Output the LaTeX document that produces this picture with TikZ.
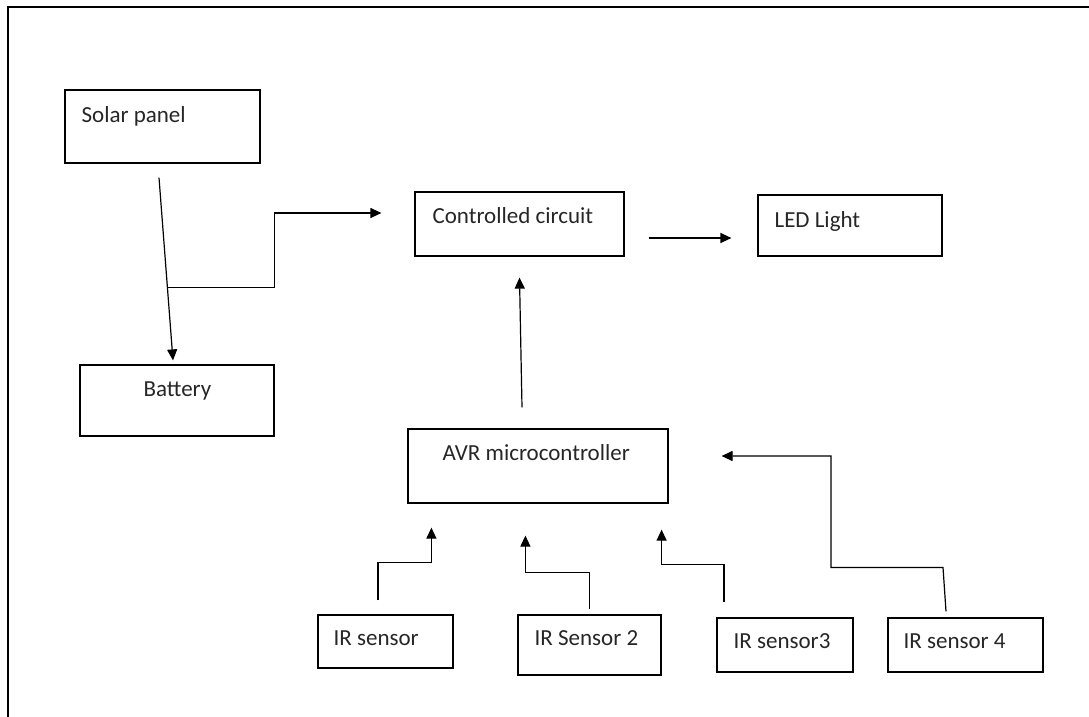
\documentclass[tikz,border=0pt]{standalone}
\usepackage{fontspec}
\setmainfont{Carlito}
\usetikzlibrary{arrows.meta}
\tikzset{
  box/.style={draw, line width=1.2pt, inner sep=0pt},
  lbl/.style={anchor=base west, inner sep=0pt, font=\fontsize{23}{27}\selectfont, text=black!85},
  arr/.style={line width=1.2pt, -{Triangle[length=11pt,width=10pt]}},
  wire/.style={line width=1.2pt}
}
\begin{document}
\begin{tikzpicture}[x=1pt,y=-1pt]
\useasboundingbox (0,0) rectangle (1089,717);
\draw[line width=1.4pt] (8,717) -- (8,7) -- (1089,7);
\node[box, minimum width=195, minimum height=73] (solar) at (162.5,126.5) {};
\node[box, minimum width=194, minimum height=71] (batt) at (177,400.5) {};
\node[box, minimum width=209, minimum height=64] (cc) at (519.5,224) {};
\node[box, minimum width=184, minimum height=61] (led) at (850,225.5) {};
\node[box, minimum width=260, minimum height=74] (avr) at (538,466) {};
\node[box, minimum width=135, minimum height=53] (ir1) at (385.5,641.5) {};
\node[box, minimum width=143, minimum height=60] (ir2) at (589.5,645) {};
\node[box, minimum width=136, minimum height=54] (ir3) at (785,645) {};
\node[box, minimum width=155, minimum height=54] (ir4) at (965.5,645) {};
\node[lbl] (solart) at ([xshift=17pt,yshift=-33pt]solar.north west) {Solar panel};
\node[lbl] (battt) at ([xshift=64pt,yshift=-32pt]batt.north west) {Battery};
\node[lbl] (cct) at ([xshift=18pt,yshift=-32pt]cc.north west) {Controlled circuit};
\node[lbl] (ledt) at ([xshift=17pt,yshift=-33pt]led.north west) {LED Light};
\node[lbl] (avrt) at ([xshift=35pt,yshift=-32pt]avr.north west) {AVR microcontroller};
\node[lbl] (ir1t) at ([xshift=16pt,yshift=-31pt]ir1.north west) {IR sensor};
\node[lbl] (ir2t) at ([xshift=17pt,yshift=-31pt]ir2.north west) {IR Sensor 2};
\node[lbl] (ir3t) at ([xshift=17pt,yshift=-31pt]ir3.north west) {IR sensor3};
\node[lbl] (ir4t) at ([xshift=16pt,yshift=-31pt]ir4.north west) {IR sensor 4};
\draw[arr] ([xshift=-3.5pt,yshift=-14pt]solar.south) -- coordinate[pos=0.6] (fork) ([xshift=-4pt,yshift=4pt]batt.north);
\draw[arr] (fork) -- ++(107pt,0) |- ([xshift=-33pt,yshift=11pt]cc.west);
\draw[arr] ([xshift=24pt,yshift=-14pt]cc.east) -- ([xshift=-26pt,yshift=-12.5pt]led.west);
\draw[arr] ([xshift=-16pt,yshift=21pt]avr.north) -- ([yshift=-21pt]cc.south);
\draw[arr] ([xshift=-7.5pt,yshift=14pt]ir1.north) -- ++(0,38pt) -| ([xshift=24pt,yshift=-24pt]avr.south west);
\draw[arr] ([yshift=5pt]ir2.north) -- ++(0,37pt) -| ([xshift=118pt,yshift=-32pt]avr.south west);
\draw[arr] ([xshift=-61pt,yshift=15pt]ir3.north) -- ++(0,38pt) -| ([xshift=-7pt,yshift=-26pt]avr.south east);
\draw[arr] ([xshift=-19.5pt,yshift=6pt]ir4.north) -- ++(-3pt,44pt) -- ++(-112pt,0) |- ([xshift=53pt,yshift=10pt]avr.east);
\end{tikzpicture}
\end{document}
